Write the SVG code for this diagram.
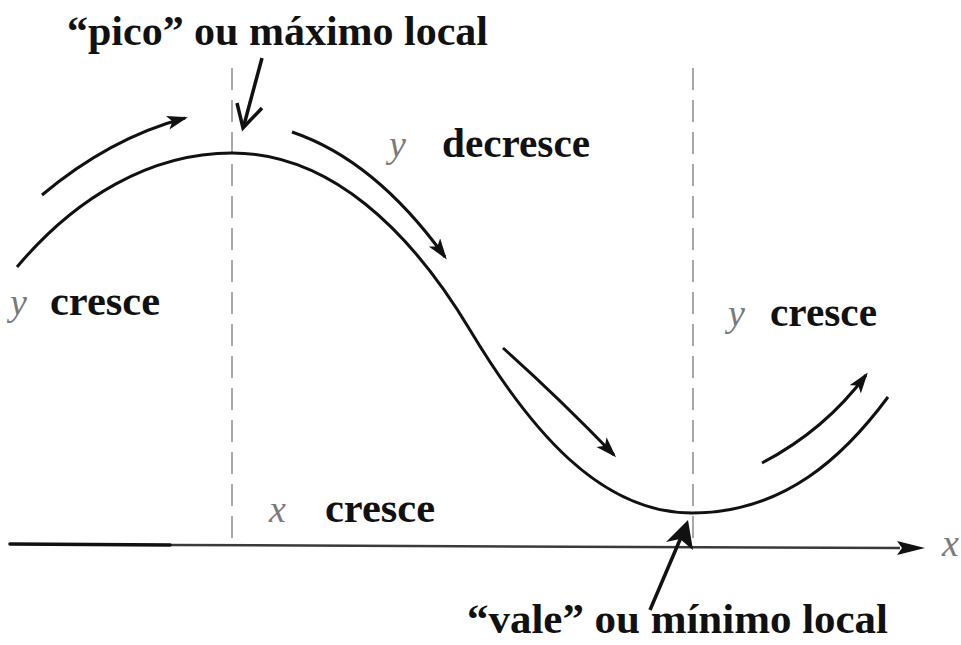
<svg xmlns="http://www.w3.org/2000/svg" width="961" height="645" viewBox="0 0 961 645">
<style>
.lbl{font-family:"Liberation Serif","Times New Roman",serif;font-weight:bold;fill:#111;font-size:42px}
.var{font-family:"Liberation Serif","Times New Roman",serif;font-style:italic;fill:#7a7a7a;font-size:38px}
.ann{font-family:"Liberation Serif","Times New Roman",serif;font-weight:bold;fill:#111;font-size:42px}
.curve{fill:none;stroke:#111;stroke-width:3}
.arr{fill:none;stroke:#111;stroke-width:3;marker-end:url(#head)}
.dash{fill:none;stroke:#a8a8a8;stroke-width:2;stroke-dasharray:22 10}
</style>
<defs>
<marker id="head" markerUnits="userSpaceOnUse" markerWidth="22" markerHeight="16" refX="18" refY="7" orient="auto">
<path d="M0,0 L21,7 L0,14 L5,7 Z" fill="#111"/>
</marker>
</defs>
<rect width="961" height="645" fill="#ffffff"/>

<g id="guides">
<line class="dash" x1="232" y1="68" x2="232" y2="545"/>
<line class="dash" x1="693" y1="68" x2="693" y2="546"/>
</g>

<g id="axis">
<line x1="170" y1="545" x2="900" y2="548" stroke="#3a3a3a" stroke-width="2.5"/>
<line x1="10" y1="544" x2="170" y2="545" stroke="#111" stroke-width="3.5" stroke-linecap="round"/>
<path d="M925,548 L897,541 L902,548 L897,555 Z" fill="#111"/>
</g>

<g id="curve">
<path class="curve" d="M17,267 C75,198 150,153 232,153 C330,153 410,230 470,330 C530,430 600,513 692,513 C785,513 845,455 888,397"/>
</g>

<g id="connectors">
<path class="arr" d="M42,195 Q110,138 185,118"/>
<path class="arr" d="M292,132 Q375,160 445,257"/>
<path class="arr" d="M503,348 Q558,397 614,455"/>
<path class="arr" d="M762,463 Q825,430 866,375"/>
<line x1="262" y1="58" x2="244" y2="125" stroke="#111" stroke-width="3.5"/>
<polyline points="237,103 243,128 262,108" fill="none" stroke="#111" stroke-width="3.5" stroke-linejoin="miter"/>
<line x1="650" y1="610" x2="682" y2="535" stroke="#111" stroke-width="3.5"/>
<path d="M688,520 L693,550 L680,539 L666,542 Z" fill="#111"/>
</g>

<g id="label-pico">
<text class="ann" x="67" y="45" textLength="421" lengthAdjust="spacingAndGlyphs">“pico” ou máximo local</text>
</g>
<g id="label-vale">
<text class="ann" x="467" y="633" textLength="421" lengthAdjust="spacingAndGlyphs">“vale” ou mínimo local</text>
</g>
<g id="label-y-cresce-left">
<text class="var" x="10" y="315">y</text>
<text class="lbl" x="50" y="315" textLength="110" lengthAdjust="spacingAndGlyphs">cresce</text>
</g>
<g id="label-y-decresce">
<text class="var" x="389" y="157">y</text>
<text class="lbl" x="442" y="157" textLength="148" lengthAdjust="spacingAndGlyphs">decresce</text>
</g>
<g id="label-y-cresce-right">
<text class="var" x="728" y="326">y</text>
<text class="lbl" x="770" y="326" textLength="107" lengthAdjust="spacingAndGlyphs">cresce</text>
</g>
<g id="label-x-cresce">
<text class="var" x="269" y="522">x</text>
<text class="lbl" x="325" y="522" textLength="110" lengthAdjust="spacingAndGlyphs">cresce</text>
</g>
<g id="label-x-axis">
<text class="var" x="942" y="556">x</text>
</g>
</svg>
